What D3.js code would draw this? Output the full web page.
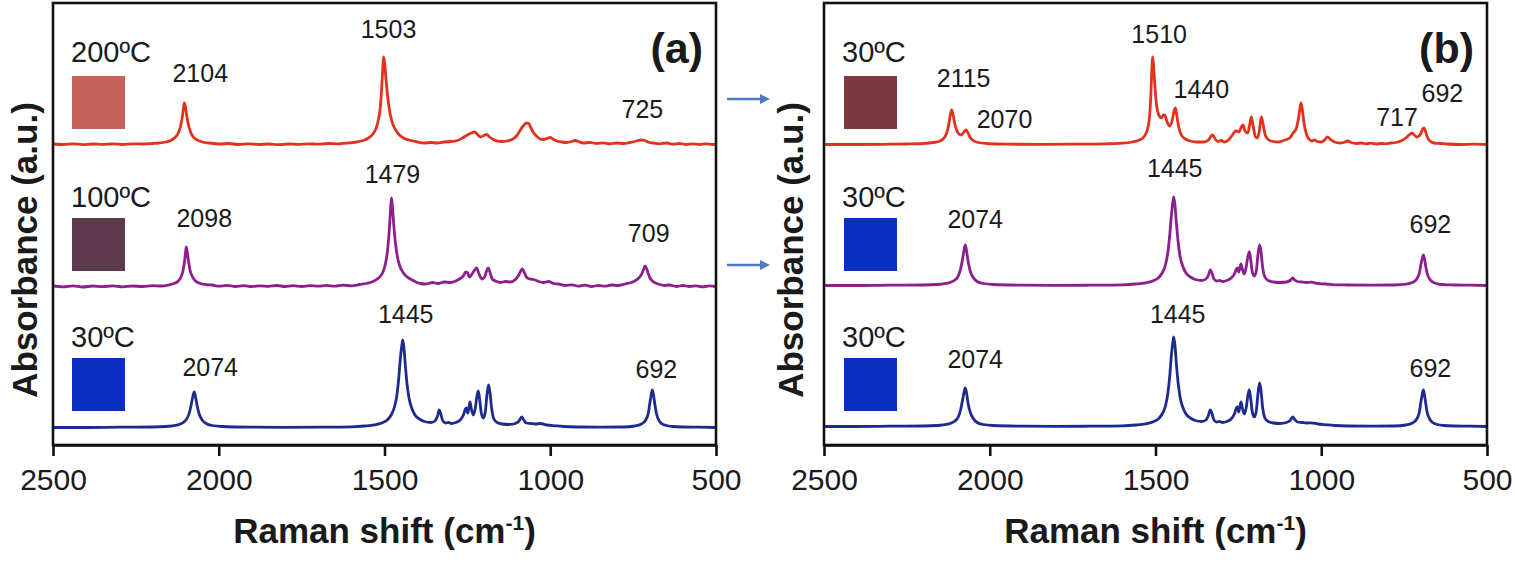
<!DOCTYPE html>
<html>
<head>
<meta charset="utf-8">
<script src="https://cdn.jsdelivr.net/npm/d3@7"></script>
<style>
  body { margin: 0; background: #fff; }
  svg text { font-family: "Liberation Sans", Arial, sans-serif; fill: #1a1a1a; }
</style>
</head>
<body>
<div id="chart"></div>
<script>
// x ticks (Raman shift, cm-1)
const xTicks = [2500, 2000, 1500, 1000, 500];

// spectra: [Raman shift, intensity above own baseline] (a.u.)
const specA30 = [[2500,0.05],[2400,0.05],[2300,0.08],[2200,0.1],[2160,0.15],[2140,0.22],[2120,0.35],[2105,0.6],[2095,1.0],[2088,1.6],[2082,2.5],[2078,3.2],[2074,3.6],[2070,3.1],[2065,2.2],[2059,1.4],[2050,0.8],[2038,0.45],[2020,0.25],[1990,0.15],[1900,0.08],[1800,0.06],[1700,0.08],[1600,0.12],[1560,0.2],[1530,0.32],[1505,0.55],[1490,0.85],[1480,1.3],[1470,2.1],[1463,3.2],[1457,5.0],[1452,7.0],[1448,8.2],[1445,8.8],[1441,7.9],[1437,6.2],[1432,4.4],[1426,3.0],[1418,2.0],[1408,1.3],[1395,0.9],[1380,0.65],[1360,0.55],[1348,0.7],[1340,1.2],[1335,1.8],[1331,1.5],[1325,0.8],[1316,0.5],[1307,0.55],[1298,0.45],[1285,0.55],[1272,0.8],[1262,1.3],[1256,1.9],[1253,2.0],[1249,1.5],[1246,1.9],[1242,2.6],[1238,1.9],[1232,1.3],[1226,2.0],[1221,3.2],[1217,3.7],[1213,2.9],[1208,1.5],[1202,1.0],[1196,1.6],[1191,3.3],[1186,4.3],[1182,3.6],[1177,2.0],[1170,0.9],[1160,0.55],[1145,0.4],[1125,0.35],[1105,0.45],[1094,0.7],[1086,1.1],[1080,0.8],[1072,0.5],[1058,0.45],[1045,0.4],[1030,0.45],[1010,0.3],[985,0.22],[960,0.15],[920,0.1],[850,0.08],[780,0.1],[745,0.2],[725,0.4],[712,0.8],[704,1.5],[699,2.6],[695,3.4],[692,3.8],[689,3.4],[685,2.5],[680,1.5],[673,0.8],[664,0.45],[650,0.25],[630,0.15],[600,0.1],[550,0.08],[500,0.05]];

const specA100 = [[2500,0.1],[2470,0.02],[2440,0.12],[2410,0.0],[2380,0.1],[2350,0.03],[2320,0.12],[2290,0.02],[2260,0.1],[2230,0.05],[2200,0.14],[2175,0.1],[2150,0.22],[2135,0.35],[2122,0.6],[2114,1.0],[2108,1.6],[2103,2.6],[2100,3.5],[2098,4.0],[2095,3.5],[2091,2.5],[2086,1.6],[2079,1.0],[2070,0.6],[2058,0.38],[2040,0.25],[2020,0.2],[2000,0.08],[1975,0.16],[1950,0.05],[1925,0.14],[1900,0.04],[1875,0.12],[1850,0.06],[1825,0.15],[1800,0.05],[1775,0.13],[1750,0.05],[1725,0.14],[1700,0.08],[1675,0.16],[1650,0.08],[1625,0.18],[1600,0.12],[1575,0.25],[1555,0.35],[1535,0.55],[1518,0.9],[1506,1.4],[1498,2.2],[1491,3.6],[1486,5.5],[1482,7.6],[1479,8.9],[1476,8.0],[1472,6.2],[1467,4.4],[1461,3.0],[1454,2.1],[1445,1.5],[1435,1.1],[1422,0.8],[1408,0.55],[1392,0.35],[1375,0.3],[1355,0.45],[1338,0.35],[1320,0.5],[1300,0.45],[1285,0.6],[1272,0.85],[1262,1.1],[1255,1.5],[1250,1.45],[1244,1.0],[1236,1.3],[1228,1.7],[1222,1.9],[1215,1.3],[1206,0.8],[1198,1.0],[1192,1.6],[1187,1.9],[1182,1.5],[1175,0.8],[1165,0.6],[1150,0.45],[1135,0.55],[1120,0.5],[1105,0.75],[1095,1.2],[1089,1.6],[1084,1.8],[1079,1.5],[1072,1.0],[1062,0.8],[1050,0.75],[1035,0.55],[1020,0.45],[1005,0.55],[990,0.35],[975,0.3],[955,0.15],[935,0.22],[915,0.08],[895,0.18],[875,0.05],[855,0.15],[835,0.08],[815,0.2],[795,0.15],[775,0.3],[760,0.4],[745,0.6],[733,0.9],[724,1.3],[718,1.8],[714,2.1],[710,1.9],[705,1.4],[699,0.9],[692,0.6],[682,0.4],[670,0.25],[655,0.15],[640,0.2],[620,0.05],[600,0.15],[580,0.05],[560,0.12],[540,0.02],[520,0.12],[500,0.05]];

const specA200 = [[2500,0.1],[2470,0.05],[2440,0.12],[2410,0.04],[2380,0.1],[2350,0.06],[2320,0.12],[2290,0.05],[2260,0.12],[2230,0.1],[2200,0.15],[2180,0.2],[2160,0.3],[2145,0.45],[2132,0.75],[2122,1.2],[2115,1.9],[2110,2.8],[2106,3.8],[2104,4.2],[2101,3.9],[2097,3.0],[2092,2.1],[2085,1.3],[2077,0.8],[2065,0.5],[2050,0.3],[2030,0.2],[2000,0.1],[1970,0.15],[1940,0.05],[1910,0.12],[1880,0.05],[1850,0.1],[1820,0.04],[1790,0.1],[1760,0.06],[1730,0.12],[1700,0.08],[1670,0.15],[1640,0.12],[1610,0.2],[1585,0.3],[1565,0.45],[1548,0.7],[1535,1.1],[1525,1.7],[1518,2.6],[1512,4.0],[1508,6.0],[1505,7.8],[1503,8.8],[1500,8.3],[1496,6.8],[1491,5.0],[1485,3.5],[1478,2.4],[1468,1.6],[1455,1.0],[1440,0.65],[1420,0.45],[1400,0.3],[1380,0.2],[1360,0.25],[1340,0.2],[1320,0.3],[1300,0.35],[1280,0.45],[1265,0.7],[1250,1.0],[1238,1.2],[1228,1.3],[1218,1.0],[1210,0.8],[1200,0.95],[1192,1.05],[1183,0.8],[1172,0.55],[1160,0.4],[1145,0.35],[1130,0.4],[1115,0.55],[1102,0.9],[1092,1.4],[1082,1.9],[1072,2.2],[1065,2.15],[1058,1.7],[1050,1.2],[1040,0.85],[1030,0.6],[1020,0.55],[1010,0.65],[1000,0.75],[992,0.6],[980,0.4],[965,0.3],[950,0.25],[935,0.35],[925,0.45],[915,0.35],[900,0.2],[880,0.25],[860,0.15],[840,0.22],[820,0.12],[800,0.2],[780,0.15],[760,0.25],[745,0.35],[735,0.45],[725,0.5],[715,0.45],[705,0.3],[690,0.2],[670,0.12],[650,0.2],[630,0.08],[610,0.15],[590,0.05],[570,0.12],[550,0.05],[530,0.12],[510,0.05],[500,0.1]];

const specB30a = [[2500,0.05],[2400,0.05],[2300,0.08],[2200,0.1],[2160,0.15],[2140,0.22],[2120,0.35],[2105,0.6],[2095,1.0],[2088,1.7],[2082,2.7],[2078,3.4],[2074,3.9],[2070,3.4],[2065,2.3],[2059,1.5],[2050,0.85],[2038,0.45],[2020,0.25],[1990,0.15],[1900,0.08],[1800,0.06],[1700,0.08],[1600,0.12],[1560,0.2],[1530,0.32],[1505,0.55],[1490,0.85],[1480,1.3],[1470,2.1],[1463,3.3],[1457,5.1],[1452,7.2],[1448,8.4],[1445,9.0],[1441,8.1],[1437,6.3],[1432,4.5],[1426,3.0],[1418,2.0],[1408,1.3],[1395,0.9],[1380,0.65],[1360,0.55],[1348,0.7],[1340,1.2],[1335,1.7],[1331,1.5],[1325,0.8],[1316,0.5],[1307,0.55],[1298,0.45],[1285,0.55],[1272,0.8],[1262,1.3],[1256,1.9],[1253,2.0],[1249,1.5],[1246,1.9],[1242,2.5],[1238,1.9],[1232,1.3],[1226,2.0],[1221,3.2],[1217,3.7],[1213,2.9],[1208,1.5],[1202,1.0],[1196,1.6],[1191,3.3],[1186,4.4],[1182,3.7],[1177,2.0],[1170,0.9],[1160,0.55],[1145,0.4],[1125,0.35],[1105,0.45],[1094,0.65],[1086,1.0],[1080,0.75],[1072,0.5],[1058,0.45],[1045,0.4],[1030,0.42],[1010,0.3],[985,0.22],[960,0.15],[920,0.1],[850,0.08],[780,0.1],[745,0.2],[725,0.4],[712,0.8],[704,1.5],[699,2.6],[695,3.3],[692,3.7],[689,3.3],[685,2.4],[680,1.4],[673,0.8],[664,0.45],[650,0.25],[630,0.15],[600,0.1],[550,0.08],[500,0.05]];

const specB30b = [[2500,0.05],[2400,0.05],[2300,0.08],[2200,0.1],[2160,0.15],[2140,0.22],[2120,0.35],[2105,0.6],[2095,1.0],[2088,1.7],[2082,2.7],[2078,3.5],[2074,4.1],[2070,3.5],[2065,2.4],[2059,1.5],[2050,0.85],[2038,0.45],[2020,0.25],[1990,0.15],[1900,0.08],[1800,0.06],[1700,0.08],[1600,0.12],[1560,0.2],[1530,0.32],[1505,0.55],[1490,0.85],[1480,1.3],[1470,2.1],[1463,3.3],[1457,5.1],[1452,7.1],[1448,8.3],[1445,8.9],[1441,8.0],[1437,6.3],[1432,4.5],[1426,3.0],[1418,2.0],[1408,1.3],[1395,0.9],[1380,0.65],[1360,0.55],[1348,0.7],[1340,1.1],[1335,1.6],[1331,1.4],[1325,0.8],[1316,0.5],[1307,0.55],[1298,0.45],[1285,0.55],[1272,0.8],[1262,1.2],[1256,1.7],[1253,1.8],[1249,1.4],[1246,1.7],[1242,2.2],[1238,1.7],[1232,1.2],[1226,2.0],[1221,3.0],[1217,3.4],[1213,2.7],[1208,1.4],[1202,1.0],[1196,1.5],[1191,3.1],[1186,4.1],[1182,3.5],[1177,1.9],[1170,0.9],[1160,0.55],[1145,0.4],[1125,0.35],[1105,0.4],[1094,0.55],[1086,0.8],[1080,0.6],[1072,0.45],[1058,0.4],[1045,0.35],[1030,0.38],[1010,0.25],[985,0.2],[960,0.12],[920,0.1],[850,0.08],[780,0.1],[745,0.18],[725,0.35],[712,0.7],[704,1.3],[699,2.2],[695,2.8],[692,3.1],[689,2.8],[685,2.0],[680,1.2],[673,0.7],[664,0.4],[650,0.22],[630,0.14],[600,0.1],[550,0.08],[500,0.05]];

const specB30c = [[2500,0.05],[2400,0.05],[2300,0.08],[2250,0.1],[2200,0.15],[2170,0.25],[2150,0.4],[2138,0.7],[2130,1.2],[2124,2.0],[2119,3.0],[2115,3.5],[2111,3.1],[2106,2.2],[2100,1.5],[2093,1.1],[2086,1.0],[2078,1.3],[2072,1.5],[2067,1.3],[2060,0.8],[2050,0.45],[2035,0.25],[2010,0.15],[1950,0.08],[1850,0.06],[1750,0.08],[1650,0.12],[1600,0.18],[1570,0.3],[1548,0.5],[1533,0.9],[1524,1.6],[1518,2.8],[1514,5.0],[1511,7.6],[1509,8.8],[1506,8.0],[1502,6.0],[1497,4.0],[1490,3.0],[1482,2.7],[1476,3.0],[1472,3.0],[1466,2.4],[1458,1.9],[1450,2.4],[1444,3.4],[1440,3.7],[1436,3.0],[1430,1.8],[1422,1.0],[1410,0.6],[1395,0.4],[1375,0.3],[1355,0.3],[1340,0.5],[1332,0.9],[1327,1.0],[1320,0.6],[1312,0.35],[1302,0.45],[1292,0.3],[1280,0.5],[1270,0.9],[1262,1.3],[1255,1.4],[1248,1.3],[1241,1.8],[1236,2.0],[1230,1.4],[1222,1.2],[1216,2.0],[1211,2.8],[1206,2.0],[1198,0.8],[1192,0.7],[1186,1.6],[1181,2.8],[1176,2.2],[1169,1.0],[1160,0.55],[1145,0.35],[1130,0.3],[1118,0.4],[1105,0.55],[1095,0.7],[1085,1.2],[1076,1.6],[1069,2.6],[1064,3.7],[1061,4.2],[1057,3.5],[1052,2.2],[1045,1.1],[1037,0.6],[1028,0.4],[1020,0.5],[1012,0.35],[1000,0.3],[990,0.5],[981,0.8],[972,0.55],[960,0.3],[945,0.2],[932,0.25],[921,0.4],[910,0.25],[895,0.15],[880,0.2],[865,0.12],[850,0.18],[835,0.1],[820,0.15],[805,0.12],[790,0.2],[775,0.25],[760,0.4],[745,0.7],[735,1.0],[727,1.2],[719,1.0],[712,0.8],[705,0.9],[699,1.2],[694,1.6],[690,1.7],[686,1.4],[680,0.8],[672,0.4],[660,0.2],[640,0.15],[620,0.1],[580,0.05],[540,0.08],[500,0.05]];

// vertical offsets of the stacked spectra (a.u.), bottom to top
const offsetsA = [1.7, 15.8, 30.0];
const offsetsB = [1.8, 15.9, 30.0];

// sample temperatures and sample colours, bottom to top
const tempsA = ["30\u00BAC", "100\u00BAC", "200\u00BAC"];
const tempsB = ["30\u00BAC", "30\u00BAC", "30\u00BAC"];
const swatchA = ["#0a2fbe", "#5c3a4b", "#c6625a"];
const swatchB = ["#0a2fbe", "#0a2fbe", "#7b3a3f"];

// peak labels, per spectrum (bottom to top)
const peaksA = [["2074", "1445", "692"], ["2098", "1479", "709"], ["2104", "1503", "725"]];
const peaksB = [["2074", "1445", "692"], ["2074", "1445", "692"], ["2115", "2070", "1510", "1440", "717", "692"]];

const lineColors = ["#1f2b8c", "#8d1f8c", "#e2321e"];

// ---- layout ----
const width = 1515, height = 563;
const plotTop = 3, plotBottom = 445;

const svg = d3.select("#chart").append("svg")
    .attr("width", width)
    .attr("height", height);

svg.append("defs").append("marker")
    .attr("id", "arrowhead")
    .attr("viewBox", "0 0 10 10")
    .attr("refX", 2).attr("refY", 5)
    .attr("markerWidth", 4).attr("markerHeight", 4)
    .attr("orient", "auto")
    .append("path")
    .attr("d", "M0,0L10,5L0,10z")
    .attr("fill", "#4f78c2");

const y = d3.scaleLinear().domain([0, 44.2]).range([plotBottom, plotTop]);

// label placement: [dx from peak, baseline y] in px
const labelPosA = [
    [[16, 376], [3, 323], [4, 378]],
    [[18, 227], [1, 183], [2, 242]],
    [[16, 82], [5, 38], [1, 118]]
];
const labelPosB = [
    [[10, 368], [4, 323], [7, 377]],
    [[10, 228], [1, 177], [7, 233]],
    [[12, 87], [38, 128], [7, 43], [26, 98], [-18, 126], [19, 102]]
];

const panels = [
    { id: "(a)", x0: 53, x1: 716, specs: [specA30, specA100, specA200], offsets: offsetsA,
      temps: tempsA, swatch: swatchA, peaks: peaksA, labelPos: labelPosA,
      tempX: 71, swX: 72, yTitleX: 37 },
    { id: "(b)", x0: 824, x1: 1487, specs: [specB30a, specB30b, specB30c], offsets: offsetsB,
      temps: tempsB, swatch: swatchB, peaks: peaksB, labelPos: labelPosB,
      tempX: 842, swX: 844, yTitleX: 803 }
];

const tempBaselines = [347, 207, 62];
const swatchTops = [358, 218, 76];

panels.forEach(p => {
    const x = d3.scaleLinear().domain([2500, 500]).range([p.x0, p.x1]);
    const g = svg.append("g");

    // spectra
    const line = d3.line()
        .x(d => x(d[0]))
        .curve(d3.curveMonotoneX);

    p.specs.forEach((s, i) => {
        g.append("path")
            .datum(s)
            .attr("fill", "none")
            .attr("stroke", lineColors[i])
            .attr("stroke-width", 2.8)
            .attr("stroke-linejoin", "round")
            .attr("d", line.y(d => y(d[1] + p.offsets[i])));
    });

    // frame
    g.append("rect")
        .attr("x", p.x0).attr("y", plotTop)
        .attr("width", p.x1 - p.x0).attr("height", plotBottom - plotTop)
        .attr("fill", "none").attr("stroke", "#111").attr("stroke-width", 2.6);

    // x axis
    const ax = g.append("g")
        .attr("transform", `translate(0,${plotBottom})`)
        .call(d3.axisBottom(x).tickValues(xTicks).tickSize(11).tickSizeOuter(0).tickPadding(13).tickFormat(d3.format("d")));
    ax.select(".domain").attr("stroke", "#111").attr("stroke-width", 2.6);
    ax.selectAll(".tick line").attr("stroke", "#111").attr("stroke-width", 2.6);
    ax.selectAll(".tick text")
        .attr("font-family", "Liberation Sans, Arial, sans-serif")
        .attr("font-size", 30).attr("fill", "#1a1a1a");

    // axis titles
    const xt = g.append("text")
        .attr("x", (p.x0 + p.x1) / 2).attr("y", 543)
        .attr("text-anchor", "middle")
        .attr("font-size", 35).attr("font-weight", "bold");
    xt.append("tspan").text("Raman shift (cm");
    xt.append("tspan").attr("font-size", 21).attr("dy", -13).text("-1");
    xt.append("tspan").attr("dy", 13).text(")");

    g.append("text")
        .attr("transform", `translate(${p.yTitleX},250) rotate(-90)`)
        .attr("text-anchor", "middle")
        .attr("font-size", 35).attr("font-weight", "bold")
        .text("Absorbance (a.u.)");

    // panel tag
    g.append("text")
        .attr("x", p.x1 - 13).attr("y", 63)
        .attr("text-anchor", "end")
        .attr("font-size", 43).attr("font-weight", "bold")
        .text(p.id);

    // temperatures + colour swatches
    p.temps.forEach((t, i) => {
        g.append("text")
            .attr("x", p.tempX).attr("y", tempBaselines[i])
            .attr("font-size", 29)
            .text(t);
        g.append("rect")
            .attr("x", p.swX).attr("y", swatchTops[i])
            .attr("width", 53).attr("height", 53)
            .attr("fill", p.swatch[i]);
    });

    // peak labels
    p.peaks.forEach((list, i) => {
        list.forEach((lab, j) => {
            const pos = p.labelPos[i][j];
            g.append("text")
                .attr("x", x(+lab) + pos[0]).attr("y", pos[1])
                .attr("text-anchor", "middle")
                .attr("font-size", 25)
                .text(lab);
        });
    });
});

// arrows between the panels
[99, 265].forEach(ay => {
    svg.append("line")
        .attr("x1", 727).attr("x2", 762)
        .attr("y1", ay).attr("y2", ay)
        .attr("stroke", "#4f78c2").attr("stroke-width", 2.5)
        .attr("marker-end", "url(#arrowhead)");
});
</script>
</body>
</html>
